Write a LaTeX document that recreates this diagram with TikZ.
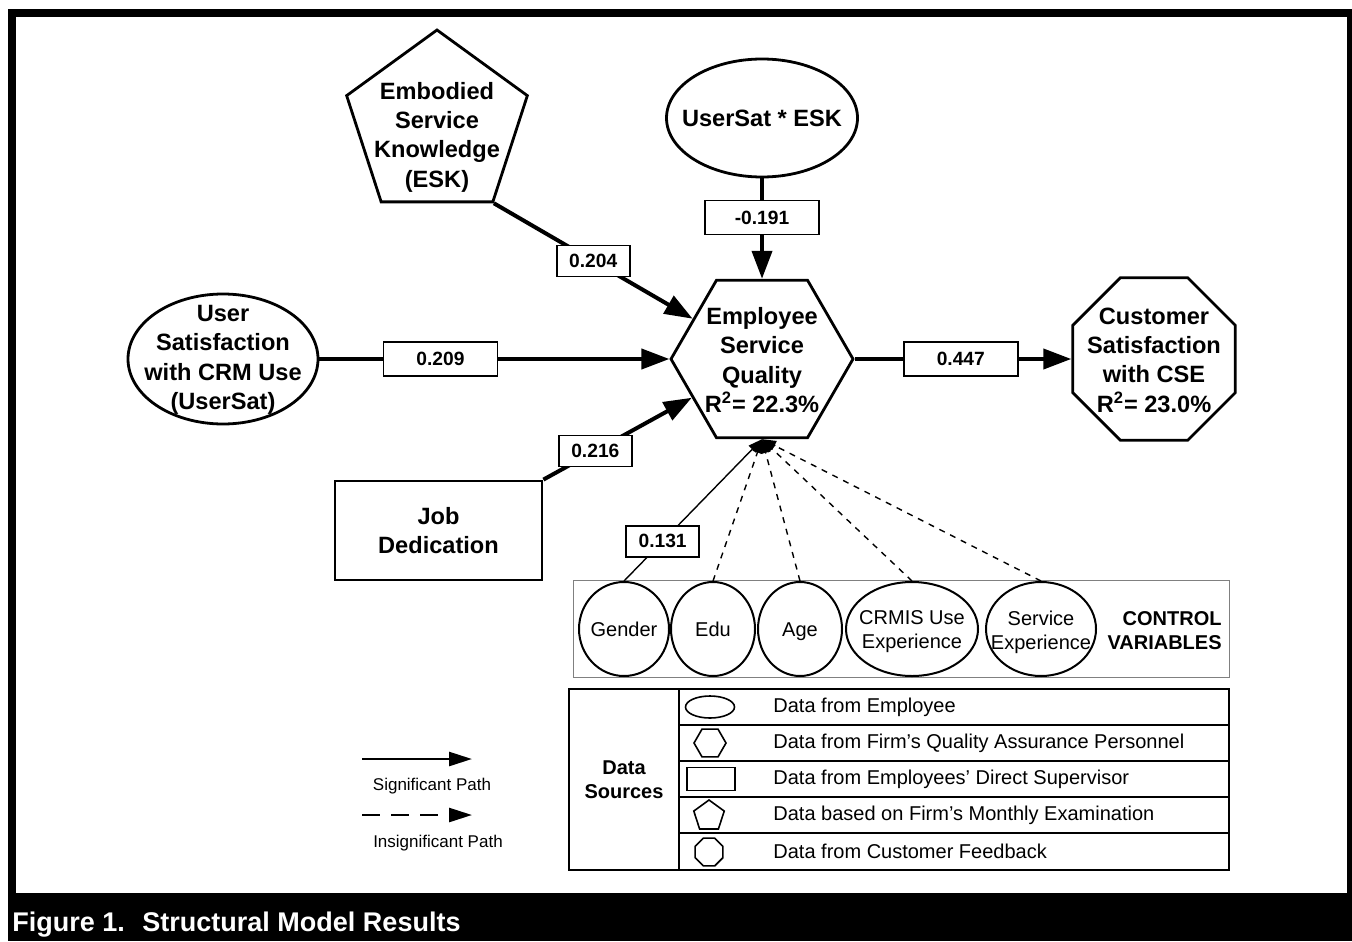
\documentclass[tikz,border=0pt]{standalone}
\usepackage{fontspec}
\setmainfont{Liberation Sans}
\usetikzlibrary{shapes.geometric, arrows.meta}

\newcommand{\fbig}{\fontsize{11.8}{14.7}\selectfont\bfseries}
\newcommand{\fval}{\fontsize{9.6}{11}\selectfont\bfseries}
\newcommand{\fsml}{\fontsize{10}{12}\selectfont}
\newcommand{\fpath}{\fontsize{8.5}{10}\selectfont}
\newcommand{\fcap}{\fontsize{13.5}{16}\selectfont\bfseries}

\begin{document}
\begin{tikzpicture}[x=0.5pt, y=-0.5pt, >={Triangle[length=14pt, width=10pt]},
  shp/.style={draw, line width=1.4pt, inner sep=0pt},
  txt/.style={font=\fbig, align=center},
  val/.style={draw, fill=white, line width=0.75pt, font=\fval, inner sep=0pt, minimum width=57pt, minimum height=17pt},
  sval/.style={val, minimum width=36.5pt, minimum height=15.5pt},
  sig/.style={->, line width=2pt},
  ctl/.style={-{Triangle[length=7pt, width=5pt]}, line width=0.7pt},
  ctlvar/.style={draw, ellipse, line width=1pt, inner sep=0pt, minimum height=47pt},
  one/.style={font=\fsml, text height=7.2pt, text depth=0pt},
  icon/.style={draw, line width=0.8pt, inner sep=0pt}]
  \useasboundingbox (0, 0) rectangle (1352, 941);
  \fill[white] (0, 0) rectangle (1352, 941);
  \fill[black] (8, 9) rectangle (1352, 941);
  \fill[white] (16, 17) rectangle (1347, 893);

  % constructs
  \node[shp, regular polygon, regular polygon sides=5, minimum size=95pt] (esk) at (437, 125) {};
  \node[txt] (esk-t) at (437, 137) {Embodied\\Service\\Knowledge\\(ESK)};
  \node[shp, ellipse, minimum width=95.5pt, minimum height=59pt] (int) at (762, 118) {};
  \node[txt] (int-t) at (762, 118) {UserSat * ESK};
  \node[shp, ellipse, minimum width=95pt, minimum height=65pt] (usersat) at (223, 359) {};
  \node[txt] (usersat-t) at (223, 360) {User\\Satisfaction\\with CRM Use\\(UserSat)};
  \node[shp, rectangle, minimum width=103.5pt, minimum height=49.5pt] (jd) at (438.5, 530.5) {};
  \node[txt] (jd-t) at (438.5, 530.5) {Job\\Dedication};
  \node[shp, regular polygon, regular polygon sides=6, minimum size=91pt] (esq) at (762, 359) {};
  \node[txt] (esq-t) at (762, 360) {Employee\\Service\\Quality\\R\textsuperscript{2}= 22.3\%};
  \node[shp, regular polygon, regular polygon sides=8, minimum size=88pt] (csat) at (1154, 359) {};
  \node[txt] (csat-t) at (1154, 360) {Customer\\Satisfaction\\with CSE\\R\textsuperscript{2}= 23.0\%};

  % paths
  \path (esk.corner 4) edge[sig] node[sval, pos=0.5] {0.204} (esq);
  \path (int) edge[sig] node[val, pos=0.39] {-0.191} (esq);
  \path (usersat) edge[sig] node[val, pos=0.346] {0.209} (esq);
  \path (jd.north east) edge[sig] node[sval, pos=0.35] {0.216} (esq);
  \path (esq) edge[sig] node[val, pos=0.49] {0.447} (csat);

  % control variables
  \draw[gray, line width=0.5pt] (573, 580) rectangle (1229, 677);
  \node[ctlvar, minimum width=45pt] (gender) at (624, 629) {};
  \node[ctlvar, minimum width=42pt] (edu) at (713, 629) {};
  \node[ctlvar, minimum width=42pt] (age) at (800, 629) {};
  \node[ctlvar, minimum width=66pt] (crmis) at (912, 629) {};
  \node[ctlvar, minimum width=55pt] (servexp) at (1041, 629) {};
  \node[one] (gender-t) at (gender) {Gender};
  \node[one] (edu-t) at (edu) {Edu};
  \node[one] (age-t) at (age) {Age};
  \node[font=\fsml, align=center] (crmis-t) at (912, 632) {CRMIS Use\\Experience};
  \node[font=\fsml, align=center] (servexp-t) at (1041, 632) {Service\\Experience};
  \node[font=\fsml\bfseries, align=right, anchor=east, inner sep=0pt] (ctrl-t) at (1222, 631) {CONTROL\\VARIABLES};

  \path (gender.north) edge[ctl] node[sval, pos=0.28] {0.131} (esq.south);
  \path (edu.north) edge[ctl, dashed] (esq.south);
  \path (age.north) edge[ctl, dashed] (esq.south);
  \path (crmis.north) edge[ctl, dashed] (esq.south);
  \path (servexp.north) edge[ctl, dashed] (esq.south);

  % path legend
  \coordinate (sig-a) at (362, 759);
  \coordinate (sig-b) at (472, 759);
  \coordinate (ins-a) at (362, 815);
  \coordinate (ins-b) at (472, 815);
  \draw[-{Triangle[length=11.5pt, width=7pt]}, line width=1.3pt] (sig-a) -- (sig-b);
  \draw[-{Triangle[length=11.5pt, width=7pt]}, line width=1.3pt, dash pattern=on 9pt off 5.5pt] (ins-a) -- (ins-b);
  \node[font=\fpath] (sig-t) at (432, 786) {Significant Path};
  \node[font=\fpath] (ins-t) at (438, 843) {Insignificant Path};

  % data sources
  \draw[line width=1pt] (569, 689) rectangle (1229, 870);
  \draw[line width=1pt] (679, 689) -- (679, 870);
  \foreach \y in {725, 761, 797, 833}
    \draw[line width=1pt] (679, \y) -- (1229, \y);
  \node[font=\fsml\bfseries, align=center] (src-t) at (624, 780) {Data\\Sources};
  \node[icon, ellipse, minimum width=24.5pt, minimum height=11pt] (src-emp) at (710, 707) {};
  \node[icon, regular polygon, regular polygon sides=6, minimum size=16pt] (src-qa) at (710, 743) {};
  \node[icon, rectangle, minimum width=24pt, minimum height=11.5pt] (src-sup) at (711, 779) {};
  \node[icon, regular polygon, regular polygon sides=5, minimum size=16pt] (src-exam) at (709, 816) {};
  \node[icon, regular polygon, regular polygon sides=8, minimum size=15pt] (src-cust) at (709, 852) {};
  \node[font=\fsml, anchor=west, inner sep=0pt] (src-emp-t) at (773, 707) {Data from Employee};
  \node[font=\fsml, anchor=west, inner sep=0pt] (src-qa-t) at (773, 743) {Data from Firm's Quality Assurance Personnel};
  \node[font=\fsml, anchor=west, inner sep=0pt] (src-sup-t) at (773, 779) {Data from Employees' Direct Supervisor};
  \node[font=\fsml, anchor=west, inner sep=0pt] (src-exam-t) at (773, 815) {Data based on Firm's Monthly Examination};
  \node[font=\fsml, anchor=west, inner sep=0pt] (src-cust-t) at (773, 851) {Data from Customer Feedback};

  % caption
  \node[font=\fcap, text=white, anchor=base west, inner sep=0pt] (cap) at (12, 931) {Figure 1.\hspace{0.65em}Structural Model Results};
\end{tikzpicture}
\end{document}
